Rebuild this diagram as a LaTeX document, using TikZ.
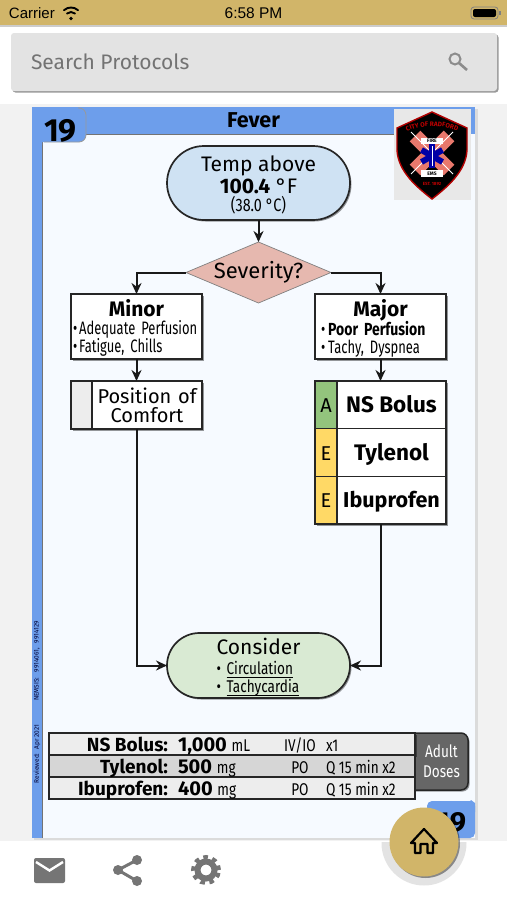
\documentclass[tikz,border=0pt]{standalone}
\usepackage{fontspec}
\setmainfont{Fira Sans}
\newfontfamily\condfont[FakeStretch=0.80]{Fira Sans}
\newfontfamily\tightfont[FakeStretch=0.72]{Fira Sans}
\newfontfamily\statusfont{Liberation Sans}
\usepackage{xcolor}
\usetikzlibrary{positioning,shapes.geometric,shapes.misc,arrows.meta,shadows,decorations.text}
\definecolor{goldbar}{HTML}{D1B569}
\definecolor{cardblue}{HTML}{6D9EEB}
\definecolor{cardbg}{HTML}{F6FAFF}
\definecolor{iconGrey}{HTML}{757575}
\definecolor{tempblue}{HTML}{CFE2F3}
\definecolor{sevpink}{HTML}{E6B8AF}
\definecolor{considergreen}{HTML}{D9EAD3}
\definecolor{gradegreen}{HTML}{93C47D}
\definecolor{gradeyellow}{HTML}{FFD966}
\definecolor{logosalmon}{HTML}{E8786C}
\newcommand{\fsz}[1]{\fontsize{#1}{#1}\selectfont}
\newcommand{\boxtitle}[1]{\makebox[\linewidth]{\normalfont\fsz{21}\bfseries #1}}
\newsavebox{\ulbox}
\newcommand{\ulined}[1]{\sbox{\ulbox}{#1}\rlap{\rule[-3.6pt]{\wd\ulbox}{1pt}}\usebox{\ulbox}}

\begin{document}
\begin{tikzpicture}[
  x=1pt, y=1pt,
  >={Stealth[length=11pt,width=10pt]},
  every node/.style={align=center, inner sep=0pt, outer sep=0pt, text=black},
  softshadow/.style={drop shadow={shadow xshift=1.5pt, shadow yshift=-1.5pt, opacity=.4, fill=black}},
  flowbox/.style={draw=black!85, line width=1.7pt, fill=white, softshadow},
  pill/.style={flowbox, rounded rectangle, fill=#1, minimum width=183pt},
  cellbox/.style={draw=black!85, line width=1.5pt, fill=#1, minimum height=47.67pt, text height=15pt, text depth=0pt},
  doserow/.style={draw=black!85, line width=1.5pt, fill=#1, minimum width=366pt, minimum height=22pt},
  dosename/.style={anchor=base east, font=\fsz{19}\bfseries},
  doseval/.style={anchor=base west, font=\fsz{20}\bfseries},
  doseroute/.style={anchor=base, font=\condfont\fsz{17}},
  dosefreq/.style={anchor=base west, font=\condfont\fsz{17}},
  arr/.style={->, line width=2pt, black!90},
  logoarm/.style={line width=#1, draw=white},
  icon/.style={draw=iconGrey, line width=3pt},
]
\useasboundingbox (0,0) rectangle (507,-900);
\fill[white] (0,0) rectangle (507,-900);
\fill[black!5] (0,-104) rectangle (507,-842);

% --- Status bar and search box ---
\node[fill=goldbar, minimum width=507pt, minimum height=25pt, anchor=north west,
      drop shadow={shadow xshift=0pt, shadow yshift=-2pt, opacity=.2, fill=black}]
  (statusbar) at (0,0) {};
\node[anchor=west, font=\statusfont\fsz{15}] (carrier) at (9,-13) {Carrier};
\node[font=\statusfont\fsz{15.5}] (clock) at (253.5,-13.5) {6:58 PM};
\fill[black] (71,-18.5) circle (1.8pt);
\draw[line width=1.9pt, line cap=round] (71,-18)+(48:6) arc (48:132:6);
\draw[line width=1.9pt, line cap=round] (71,-18)+(48:10.5) arc (48:132:10.5);
\draw[black!50, line width=0.8pt, rounded corners=3pt] (471,-7) rectangle (498,-19);
\fill[black, rounded corners=2pt] (473,-9) rectangle (496,-17);
\fill[black!50] (499,-11) rectangle (500.5,-15);

\node[fill=black!11, rounded corners=3pt, minimum width=486pt, minimum height=58pt,
      anchor=north west, softshadow] (searchbox) at (11,-33) {};
\node[anchor=west, font=\fsz{21}, text=black!55] (searchtext) at (31,-62) {Search Protocols};
\draw[draw=black!45, line width=2pt] (455,-59) circle (5.5pt);
\draw[draw=black!45, line width=2.6pt] (459,-63) -- (467,-70);

% --- Card ---
\fill[black!14] (34,-109) rectangle (477.5,-840);
\fill[cardblue] (32,-107) rectangle (475,-838);
\fill[cardbg] (42,-134) rectangle (475,-838);
\draw[black!55, line width=0.8pt] (42,-838) -- (42,-134) -- (394,-134);
\fill[cardblue] (32,-107) [rounded corners=7pt] -- (86,-107) -- (86,-142) [sharp corners] -- (42,-142) -- (42,-145) -- (32,-145) -- cycle;
\draw[black!40, line width=0.8pt, rounded corners=7pt] (78,-108) -- (86,-108) -- (86,-142) -- (44,-142);
\node[font=\fsz{32}\bfseries] (cardnum) at (60.5,-131) {19};
\node[font=\fsz{21.5}\bfseries] (cardtitle) at (253.5,-120.5) {Fever};

% --- Flow boxes ---
\node[pill=tempblue, minimum height=74pt, font=\fsz{21}] (temp) at (258.5,-183)
  {\rule{0pt}{19pt}Temp above\\[1pt]{\bfseries 100.4} °F\\[-3pt]{\condfont\fsz{18}(38.0 °C)}};

\node[diamond, draw=black!50, line width=0.7pt, fill=sevpink,
      minimum width=145pt, minimum height=61pt, aspect=2.38, font=\fsz{22}]
  (severity) at (258.5,-272.5) {Severity?};

\node[flowbox, minimum width=131pt, minimum height=65pt] (minor) at (136.5,-326.5) {};
\node[anchor=north, text width=127pt, align=left, font=\tightfont\fsz{18}] (minortext) at (minor.north)
  {\rule{0pt}{22pt}\boxtitle{Minor}\\[0pt]\mbox{•\hspace{2pt}Adequate Perfusion}\\[0pt]\mbox{•\hspace{2pt}Fatigue, Chills}};
\node[flowbox, minimum width=131pt, minimum height=65pt] (major) at (380.5,-326.5) {};
\node[anchor=north, text width=119pt, align=left, font=\tightfont\fsz{18}] (majortext) at (major.north)
  {\rule{0pt}{22pt}\boxtitle{Major}\\[0pt]\mbox{•\hspace{3pt}{\condfont\fsz{17.5}\bfseries Poor Perfusion}}\\[0pt]\mbox{•\hspace{3pt}Tachy, Dyspnea}};

\node[flowbox, minimum width=131pt, minimum height=48pt, below=22pt of minor] (position) {};
\node[draw=black!85, line width=1.5pt, fill=black!7, minimum width=21pt, minimum height=48pt,
      anchor=west] (posblank) at (position.west) {};
\node[font=\fsz{20}, right=4pt of posblank, text width=102pt] (postext) {Position of\\[-1pt]Comfort};

\node[flowbox, minimum width=131pt, minimum height=143pt, below=22pt of major] (drugs) {};
\node[cellbox=gradegreen, minimum width=22pt, anchor=north west,
      font=\fsz{20}] (gradeA) at (drugs.north west) {A};
\node[cellbox=white, minimum width=109pt, right=0pt of gradeA, font=\fsz{22.5}\bfseries] (nsbolus) {NS Bolus};
\node[cellbox=gradeyellow, minimum width=22pt, below=0pt of gradeA,
      font=\fsz{20}] (gradeE) {E};
\node[cellbox=white, minimum width=109pt, right=0pt of gradeE, font=\fsz{22.5}\bfseries] (tylenol) {Tylenol};
\node[cellbox=gradeyellow, minimum width=22pt, below=0pt of gradeE,
      font=\fsz{20}] (gradeEb) {E};
\node[cellbox=white, minimum width=109pt, right=0pt of gradeEb, font=\fsz{21.5}\bfseries] (ibuprofen) {Ibuprofen};

\node[pill=considergreen, minimum height=65pt] (consider) at (258.5,-665.5) {};
\node[anchor=north, text width=84pt, align=left, font=\condfont\fsz{17}] (considertext) at (consider.north)
  {\rule{0pt}{21pt}\makebox[\linewidth]{\normalfont\fsz{21}Consider}\\[3pt]• \ulined{Circulation}\\[1pt]• \ulined{Tachycardia}};

% --- Arrows ---
\draw[arr] (temp.south) -- (severity.north);
\draw[arr] (severity.west) -| (minor.north);
\draw[arr] (severity.east) -| (major.north);
\draw[arr] (minor.south) -- (position.north);
\draw[arr] (major.south) -- (drugs.north);
\draw[arr] (position.south) |- (consider.west);
\draw[arr] (drugs.south) |- (consider.east);

% --- Dose table ---
\filldraw[draw=black!85, fill=black!60, line width=1.5pt, rounded corners=7pt, softshadow]
  (405,-733) -- (468,-733) -- (468,-790) -- (405,-790) -- cycle;
\node[font=\condfont\fsz{17}, text=white] (adult) at (441.5,-761.5) {Adult\\[3pt]Doses};
\node[doserow=black!7, softshadow] (rowa) at (232,-744) {};
\node[doserow=black!16, below=0pt of rowa] (rowb) {};
\node[doserow=black!7, below=0pt of rowb] (rowc) {};

\node[dosename] (namea) at (168,-751) {NS Bolus:};
\node[doseval] (vala) at (178,-751) {1,000 {\condfont\mdseries\fsz{17}mL}};
\node[doseroute] (routea) at (300,-751) {IV/IO};
\node[dosefreq] (freqa) at (326,-751) {x1};
\node[dosename] (nameb) at (168,-773) {Tylenol:};
\node[doseval] (valb) at (178,-773) {500 {\condfont\mdseries\fsz{17}mg}};
\node[doseroute] (routeb) at (300,-773) {PO};
\node[dosefreq] (freqb) at (326,-773) {Q 15 min x2};
\node[dosename] (namec) at (168,-795) {Ibuprofen:};
\node[doseval] (valc) at (178,-795) {400 {\condfont\mdseries\fsz{17}mg}};
\node[doseroute] (routec) at (300,-795) {PO};
\node[dosefreq] (freqc) at (326,-795) {Q 15 min x2};

% --- Side notes ---
\node[rotate=90, font=\fsz{6.5}, text=black!80!blue] (reviewed) at (37,-754) {Reviewed:~ Apr 2021};
\node[rotate=90, font=\fsz{6.5}, text=black!80!blue] (nemsis) at (37,-661) {NEMSIS:~~ 9914061,~~ 9914129};

% --- Logo ---
\fill[black!9] (394,-109) rectangle (471,-200);
\filldraw[draw=red!70!black, fill=black, line width=1.4pt]
  (432,-112) -- (397,-128) -- (397,-150) .. controls (398,-172) and (418,-188) .. (432,-199)
  .. controls (446,-188) and (466,-172) .. (467,-150) -- (467,-128) -- cycle;
\draw[line width=15pt, draw=logosalmon] (415,-136) -- (449,-170);
\draw[line width=15pt, draw=logosalmon] (449,-136) -- (415,-170);
\draw[logoarm=1pt] (411,-132) -- (453,-174);
\draw[logoarm=1pt] (453,-132) -- (411,-174);
\fill[white] (421,-138) rectangle (443,-144);
\fill[white] (421,-170) rectangle (443,-177);
\node[font=\fsz{5}\bfseries] (logofire) at (432,-141) {FIRE};
\node[font=\fsz{5}\bfseries] (logoems) at (432,-173.5) {EMS};
\draw[line width=6pt, draw=blue!65!black] (432,-144) -- (432,-168);
\draw[line width=6pt, draw=blue!65!black] (421.5,-150) -- (442.5,-162);
\draw[line width=6pt, draw=blue!65!black] (442.5,-150) -- (421.5,-162);
\draw[white, line width=1pt] (432,-146) -- (432,-166);
\node[font=\fsz{4.5}\bfseries, text=red!75!black] (logoest) at (432,-184) {EST. 1892};
\path[decorate, decoration={text along path, text align=center,
      text={|\fsz{6.5}\bfseries\color{red!75!black}|CITY OF RADFORD}}]
  (399,-136) .. controls (415,-123) and (449,-123) .. (465,-136);

% --- Bottom tab and footer ---
\fill[cardblue, rounded corners=5pt] (427,-838) -- (427,-801) -- (475,-801) -- (475,-838) -- cycle;
\fill[cardblue] (468,-804) -- (471,-800) -- (475,-803) -- (475,-812) -- cycle;
\node[font=\fsz{29}\bfseries, anchor=base east] (tabnum) at (466,-832) {19};

\fill[white] (0,-841) rectangle (507,-900);
\begin{scope}
  \clip (360,-842) rectangle (490,-900);
  \fill[black!11] (424,-843) circle (42.5pt);
\end{scope}
\node[circle, fill=goldbar, minimum size=69pt, softshadow] (homebtn) at (424,-842) {};
\draw[line width=2.2pt, line join=round] (411,-843) -- (424,-829) -- (437,-843) -- (433,-843) -- (433,-853)
  -- (427.5,-853) -- (427.5,-844) -- (420.5,-844) -- (420.5,-853) -- (415,-853) -- (415,-843) -- cycle;

% --- Footer icons ---
\fill[iconGrey, rounded corners=2pt] (34,-858) rectangle (65,-883);
\draw[white, line width=2.4pt] (36,-862) -- (49.5,-870.5) -- (63,-862);
\draw[icon] (137,-860) -- (118,-870) -- (137,-881);
\fill[iconGrey] (118,-870) circle (5pt);
\fill[iconGrey] (137,-860) circle (5pt);
\fill[iconGrey] (137,-881) circle (5pt);
\draw[iconGrey, line width=4pt, dash pattern=on 4.6pt off 4.6pt] (206,-870) circle (13pt);
\draw[iconGrey, line width=6pt] (206,-870) circle (8.5pt);
\end{tikzpicture}
\end{document}
